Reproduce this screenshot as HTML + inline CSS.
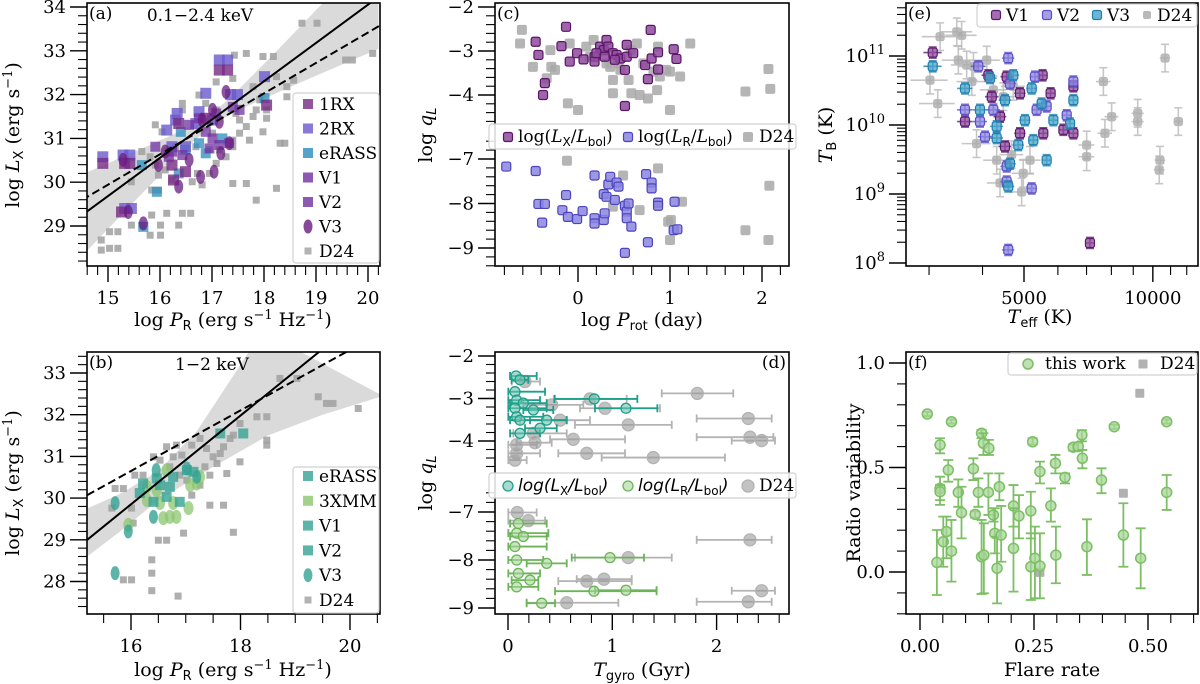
<!DOCTYPE html>
<html><head><meta charset="utf-8">
<style>
html,body{margin:0;padding:0;background:#fff;}
svg{display:block;font-family:"DejaVu Serif","Liberation Serif",serif;}
.tl{font-size:18px;fill:#000;}
.al{font-size:19px;fill:#000;}
.lg{font-size:17px;fill:#000;}
</style></head>
<body>
<svg id="fig" width="1200" height="684" viewBox="0 0 1200 684" xmlns="http://www.w3.org/2000/svg">
<defs>
<clipPath id="ca"><rect x="87" y="3" width="293" height="263"/></clipPath>
<clipPath id="cb"><rect x="87" y="352" width="293" height="262"/></clipPath>
<clipPath id="cc"><rect x="495" y="3" width="294" height="263"/></clipPath>
<clipPath id="cd"><rect x="495" y="352" width="294" height="262"/></clipPath>
<clipPath id="ce"><rect x="906" y="3" width="292" height="263"/></clipPath>
<clipPath id="cf"><rect x="906" y="352" width="292" height="262"/></clipPath>
</defs>
<g id="ga"></g>
<g id="gb"></g>
<g id="gc"></g>
<g id="gd"></g>
<g id="ge"></g>
<g id="gf"></g>

<text class="al" x="233" y="326" text-anchor="middle">log <tspan font-style="italic">P</tspan><tspan font-family="DejaVu Sans,sans-serif" font-size="13" dy="4">R</tspan><tspan dy="-4"> (erg s</tspan><tspan font-size="13" dy="-7">−1</tspan><tspan dy="7"> Hz</tspan><tspan font-size="13" dy="-7">−1</tspan><tspan dy="7">)</tspan></text>
<text class="al" x="233" y="676" text-anchor="middle">log <tspan font-style="italic">P</tspan><tspan font-family="DejaVu Sans,sans-serif" font-size="13" dy="4">R</tspan><tspan dy="-4"> (erg s</tspan><tspan font-size="13" dy="-7">−1</tspan><tspan dy="7"> Hz</tspan><tspan font-size="13" dy="-7">−1</tspan><tspan dy="7">)</tspan></text>
<text class="al" transform="translate(19,135) rotate(-90)" text-anchor="middle">log <tspan font-style="italic">L</tspan><tspan font-family="DejaVu Sans,sans-serif" font-size="13" dy="4">X</tspan><tspan dy="-4"> (erg s</tspan><tspan font-size="13" dy="-7">−1</tspan><tspan dy="7">)</tspan></text>
<text class="al" transform="translate(19,483) rotate(-90)" text-anchor="middle">log <tspan font-style="italic">L</tspan><tspan font-family="DejaVu Sans,sans-serif" font-size="13" dy="4">X</tspan><tspan dy="-4"> (erg s</tspan><tspan font-size="13" dy="-7">−1</tspan><tspan dy="7">)</tspan></text>
<text class="al" x="642" y="326" text-anchor="middle">log <tspan font-style="italic">P</tspan><tspan font-family="DejaVu Sans,sans-serif" font-size="13" dy="4">rot</tspan><tspan dy="-4"> (day)</tspan></text>
<text class="al" x="642" y="676" text-anchor="middle"><tspan font-style="italic">T</tspan><tspan font-family="DejaVu Sans,sans-serif" font-size="13" dy="4">gyro</tspan><tspan dy="-4"> (Gyr)</tspan></text>
<text class="al" transform="translate(432,135) rotate(-90)" text-anchor="middle">log <tspan font-style="italic">q</tspan><tspan font-style="italic" font-family="DejaVu Sans,sans-serif" font-size="13" dy="4">L</tspan></text>
<text class="al" transform="translate(432,483) rotate(-90)" text-anchor="middle">log <tspan font-style="italic">q</tspan><tspan font-style="italic" font-family="DejaVu Sans,sans-serif" font-size="13" dy="4">L</tspan></text>
<text class="al" x="1040" y="323" text-anchor="middle"><tspan font-style="italic">T</tspan><tspan font-family="DejaVu Sans,sans-serif" font-size="13" dy="4">eff</tspan><tspan dy="-4"> (K)</tspan></text>
<text class="al" transform="translate(832,135) rotate(-90)" text-anchor="middle"><tspan font-style="italic">T</tspan><tspan font-family="DejaVu Sans,sans-serif" font-size="13" dy="4">B</tspan><tspan dy="-4"> (K)</tspan></text>
<text class="al" x="1052" y="676" text-anchor="middle">Flare rate</text>
<text class="al" transform="translate(860,483) rotate(-90)" text-anchor="middle">Radio variability</text>

<text class="lg" x="89" y="19">(a)</text>
<text class="lg" x="200" y="21" text-anchor="middle">0.1−2.4 keV</text>
<text class="lg" x="89" y="368">(b)</text>
<text class="lg" x="212" y="370" text-anchor="middle">1−2 keV</text>
<text class="lg" x="497" y="19">(c)</text>
<text class="lg" x="786" y="368" text-anchor="end">(d)</text>
<text class="lg" x="908" y="19">(e)</text>
<text class="lg" x="908" y="368">(f)</text>

<g id="legends"></g>
</svg>

<script>
// ---------------- DATA ----------------
const aD24 = [[14.87,28.68],[14.87,28.45],[15.03,28.87],[15.03,28.49],[15.19,28.87],[15.19,28.49],[15.45,29.02],[15.45,30.01],[15.65,29.02],[15.81,28.79],[16.01,28.79],[16.01,29.02],[15.84,29.25],[16.13,29.29],[16.36,29.02],[16.43,29.29],[16.59,29.29],[15.84,29.82],[15.97,29.82],[15.81,30.58],[15.91,30.39],[15.97,30.16],[16.10,30.28],[16.23,30.05],[15.65,30.70],[15.91,31.31],[16.04,31.15],[16.17,30.70],[16.30,30.81],[16.43,31.80],[16.75,31.99],[16.72,30.20],[16.62,30.01],[16.81,29.94],[16.95,30.20],[17.08,30.43],[17.14,30.74],[17.40,30.96],[17.53,31.12],[17.66,31.27],[17.79,31.50],[17.92,31.88],[18.05,31.65],[17.98,31.15],[17.66,32.94],[17.43,32.90],[17.40,29.97],[17.66,29.97],[17.85,29.59],[18.24,29.86],[18.31,30.89],[18.40,30.89],[18.24,32.41],[18.44,32.18],[18.44,31.95],[18.18,32.87],[17.08,32.29],[17.40,32.37],[18.57,32.33],[17.46,31.57],[17.79,32.18],[17.98,32.87],[18.73,33.63],[19.02,33.63],[19.57,32.79],[19.70,32.79],[20.09,32.94],[18.05,31.46],[17.85,31.65],[17.53,31.42],[17.08,31.65],[16.88,31.80],[16.43,31.65],[16.69,30.81],[17.01,31.12],[17.27,30.58],[16.95,30.74],[17.40,30.81],[17.72,30.96]];
const a2RX = [[14.90,30.58],[15.29,30.62],[15.42,30.62],[17.14,32.79],[17.30,32.79],[16.88,32.03],[17.36,32.0],[17.49,32.0],[18.01,32.41],[16.33,31.57],[16.30,31.42],[16.75,31.61],[16.13,31.19],[15.32,29.40],[15.45,29.40],[16.23,30.81],[16.49,30.81],[17.01,31.42],[16.69,31.34]];
const a1RX = [[14.90,30.43],[15.32,30.43],[15.42,30.43],[17.14,32.56],[17.30,32.56],[18.05,31.76],[16.36,31.34],[16.23,30.39],[16.26,30.05],[16.49,30.24],[16.88,31.46],[15.26,29.32]];
const aERASS = [[15.65,30.39],[15.94,29.78],[15.68,28.98],[16.40,31.15],[16.36,30.20],[16.88,30.66],[17.20,31.0],[18.01,31.92],[16.49,30.74],[16.75,30.89]];
const aV12 = [[16.75,31.46],[17.08,31.57],[17.40,31.72],[17.53,31.65],[16.56,31.31],[16.88,31.15],[17.01,31.0],[17.14,30.85],[16.95,30.77],[16.43,30.62],[16.17,30.58],[16.23,30.70],[15.91,30.81],[17.33,30.89]];
const aV3 = [[15.29,30.51],[15.39,29.32],[15.68,29.06],[16.36,29.90],[16.56,30.51],[16.78,30.12],[17.04,30.24],[17.33,30.89],[16.81,31.42],[17.14,31.38],[17.27,32.06],[15.97,30.39],[16.10,30.70],[17.01,31.65],[17.17,30.66]];
const aFitSolid = [0.874, 29.29, 14.55];
const aFitDashed = [0.695, 29.63, 14.55];
const bD24 = [[15.65,29.76],[15.71,30.23],[15.86,30.23],[16.01,29.76],[16.04,29.40],[15.86,28.04],[16.01,28.04],[16.38,28.52],[16.38,28.20],[16.38,27.78],[16.86,27.65],[16.50,28.99],[16.65,28.99],[16.96,29.16],[17.44,29.83],[17.69,29.83],[17.87,29.18],[17.99,30.87],[17.75,30.59],[17.44,30.55],[17.26,30.31],[17.11,30.07],[17.02,30.43],[16.89,30.55],[16.71,30.75],[16.77,30.99],[16.93,31.03],[17.11,31.27],[17.26,31.43],[17.38,31.19],[17.50,30.99],[17.63,31.07],[17.69,31.23],[17.81,31.43],[17.87,31.51],[17.99,31.79],[18.30,31.95],[18.48,31.95],[18.48,31.39],[18.48,31.27],[18.72,32.87],[19.03,32.87],[19.42,32.43],[19.57,32.27],[19.69,32.27],[20.15,32.15],[16.41,30.99],[16.22,30.55],[16.07,30.55],[16.53,30.91],[16.65,31.23],[16.83,31.27],[17.57,30.83],[17.35,30.75]];
const bTealSq = [[16.22,30.35],[16.16,30.12],[16.41,29.91],[16.53,30.31],[16.71,30.27],[16.77,30.51],[16.89,29.91],[17.02,30.67],[17.14,30.63],[17.63,31.55],[18.05,31.55],[16.65,30.03],[16.47,30.47]];
const bV3 = [[15.71,29.88],[15.71,28.20],[15.95,29.20],[16.41,29.55],[16.46,30.67],[17.02,30.71],[17.20,30.51]];
const b3XMM = [[15.95,29.36],[16.29,29.95],[16.47,30.19],[16.59,29.52],[16.71,29.55],[16.65,30.67],[16.77,29.88],[16.83,29.55],[17.05,29.76],[17.08,30.31],[17.20,30.35],[17.26,30.51],[16.29,30.27],[16.53,29.88]];
const bFitSolid = [1.064, 29.0, 15.2];
const bFitDashed = [0.726, 30.07, 15.2];
const bBandUpper = [[15.2,29.75],[15.8,30.1],[16.5,30.65],[17.2,31.6],[17.9,33.0],[18.4,34.0]];
const bBandLower = [[20.6,32.45],[19.5,32.0],[18.5,31.5],[17.5,30.75],[16.5,29.95],[15.8,29.2],[15.2,28.6]];
const cLX = [[-0.13,-2.45],[-0.46,-2.79],[-0.43,-3.09],[-0.18,-2.89],[-0.09,-3.24],[-0.01,-3.05],[0.06,-3.19],[-0.36,-3.73],[-0.38,-4.0],[0.18,-3.13],[0.18,-3.24],[0.24,-2.90],[0.28,-2.98],[0.31,-2.75],[0.33,-2.90],[0.38,-3.05],[0.42,-3.09],[0.46,-3.17],[0.53,-2.86],[0.53,-3.13],[0.51,-3.43],[0.51,-4.25],[0.60,-3.05],[0.73,-3.32],[0.76,-3.64],[0.79,-2.52],[0.80,-3.17],[0.87,-3.03],[0.87,-3.42],[1.04,-2.96],[1.07,-3.18],[0.20,-3.05],[0.29,-3.13],[0.40,-3.20]];
const cLR = [[-0.78,-7.17],[-0.46,-7.27],[-0.43,-8.01],[-0.36,-8.01],[-0.39,-8.43],[-0.13,-7.81],[-0.17,-8.15],[-0.11,-8.30],[-0.01,-8.35],[0.05,-8.17],[0.18,-7.37],[0.18,-8.33],[0.18,-8.45],[0.28,-8.37],[0.28,-7.79],[0.31,-7.85],[0.29,-8.22],[0.33,-7.57],[0.35,-7.40],[0.42,-7.53],[0.44,-7.62],[0.40,-7.92],[0.51,-8.05],[0.53,-8.18],[0.53,-8.33],[0.55,-8.0],[0.58,-8.52],[0.51,-9.11],[0.74,-7.34],[0.76,-8.87],[0.80,-7.53],[0.80,-7.66],[0.87,-7.98],[0.87,-8.05],[1.05,-7.96],[1.04,-8.60],[1.08,-8.58]];
const cD24 = [[-0.61,-2.52],[-0.63,-2.83],[-0.49,-3.36],[-0.30,-2.98],[-0.29,-3.36],[-0.34,-3.62],[-0.25,-3.43],[-0.11,-4.19],[0.0,-4.34],[-0.09,-2.83],[0.09,-2.90],[0.13,-3.13],[0.17,-2.75],[0.35,-3.36],[0.38,-3.66],[0.38,-3.96],[0.44,-3.28],[0.55,-3.66],[0.58,-3.96],[0.64,-2.83],[0.71,-3.28],[0.82,-3.47],[0.87,-2.90],[0.89,-3.58],[0.86,-3.89],[0.96,-3.43],[1.0,-3.47],[1.0,-4.34],[1.11,-3.58],[1.22,-2.83],[0.67,-4.0],[0.76,-4.08],[0.24,-2.98],[0.57,-2.98],[0.31,-3.28],[0.46,-3.43],[1.82,-3.92],[2.07,-3.41],[2.09,-3.86],[-0.12,-7.04],[0.49,-7.37],[0.38,-8.07],[0.67,-8.15],[0.87,-7.21],[0.98,-8.41],[1.01,-8.37],[1.0,-8.82],[1.13,-7.96],[1.82,-8.60],[2.07,-8.82],[2.08,-7.60]];
const dLX = [[0.077,-2.47,0.02,0.275],[0.115,-2.56,0.035,0.195],[0.067,-2.84,0.003,0.355],[0.083,-3.04,0.003,0.307],[0.067,-3.23,0.003,0.371],[0.083,-3.43,0.003,0.338],[0.115,-3.51,0.02,0.563],[0.371,-3.51,0.211,0.563],[0.307,-3.70,0.163,0.467],[0.115,-3.82,0.02,0.307],[0.827,-3.01,0.444,1.24],[1.131,-3.23,0.834,1.432],[0.147,-3.11,0.02,0.371],[0.243,-3.27,0.147,0.434]];
const dLR = [[0.099,-7.24,0.02,0.371],[0.083,-7.44,0.003,0.387],[0.067,-7.72,0.003,0.371],[0.083,-8.0,0.003,0.338],[0.099,-8.28,0.003,0.307],[0.083,-8.56,0.003,0.291],[0.371,-8.07,0.179,0.563],[0.978,-7.95,0.611,1.304],[0.824,-8.65,0.451,1.425],[1.131,-8.63,0.834,1.425],[0.323,-8.90,0.179,0.451],[0.147,-7.51,0.02,0.371],[0.211,-8.42,0.035,0.291]];
const dD24 = [[1.815,-2.88,1.474,2.16],[0.786,-3.01,0.451,1.138],[0.93,-3.23,0.69,1.457],[1.153,-3.62,0.642,1.57],[2.304,-3.47,1.809,2.528],[2.32,-3.91,1.809,2.544],[2.432,-3.99,2.145,2.56],[0.626,-3.96,0.403,1.122],[0.755,-4.29,0.482,1.122],[1.393,-4.39,0.898,2.08],[0.259,-4.04,0.083,0.419],[0.083,-4.09,0.003,0.275],[0.083,-4.29,0.003,0.307],[0.067,-4.45,0.003,0.179],[0.499,-3.51,0.115,0.786],[0.419,-3.15,0.147,0.722],[0.243,-3.82,0.051,0.563],[0.163,-2.60,0.035,0.307],[0.089,-7.01,0.003,0.275],[0.195,-7.18,0.003,0.355],[2.32,-7.58,1.809,2.528],[1.153,-7.95,0.642,1.57],[0.755,-8.44,0.482,1.186],[0.92,-8.40,0.659,1.186],[2.432,-8.64,2.145,2.56],[0.563,-8.89,0.179,1.058],[2.304,-8.87,1.809,2.528]];
const eV1 = [[3060,11.05],[3640,10.05],[4128,10.72],[4203,10.41],[4514,9.69],[4555,10.70],[4893,10.46],[5527,10.72],[5770,10.46],[6180,9.93],[6522,10.56],[6522,9.88],[7130,8.29],[5547,9.88],[4893,9.88],[4395,10.12]];
const eV2 = [[3910,10.85],[3640,10.22],[3946,10.05],[4054,9.83],[4594,10.97],[4635,10.60],[5304,10.70],[5352,10.22],[6292,10.14],[6522,10.63],[4555,9.40],[4555,9.18],[4594,8.19],[5211,9.08],[4240,10.22],[5648,10.27]];
const eV3 = [[3060,10.85],[3640,10.53],[3946,10.22],[4165,10.68],[4317,9.81],[4719,10.72],[4514,10.36],[4848,9.71],[4635,9.44],[4594,9.11],[5211,10.53],[5025,10.07],[5498,10.31],[5648,9.49],[6405,10.02],[6522,10.36],[5856,10.07],[4317,9.98],[5257,9.78]];
const eD24 = [[3015,10.65],[3143,10.31],[3184,11.28],[3483,11.35],[3575,11.30],[3512,10.94],[3673,10.87],[3809,10.85],[3776,10.63],[3874,9.73],[4091,10.94],[4317,9.49],[4395,9.16],[4677,9.57],[4980,9.30],[4937,9.03],[5164,9.49],[7663,10.63],[8012,10.12],[7727,9.88],[7004,9.71],[7004,9.54],[9218,10.17],[9218,10.05],[10680,10.97],[10390,9.49],[10350,9.35],[11470,10.05],[4474,10.41],[4719,10.56],[4240,10.51]];
const fThis = [[0.016,0.756,0.746,0.766],[0.069,0.719,0.71,0.73],[0.135,0.664,0.64,0.68],[0.247,0.623,0.61,0.64],[0.426,0.695,0.685,0.705],[0.541,0.719,0.71,0.73],[0.044,0.608,0.568,0.640],[0.044,0.400,0.344,0.456],[0.044,0.384,0.321,0.416],[0.037,0.046,-0.110,0.201],[0.051,0.145,0.025,0.265],[0.058,0.193,0.066,0.265],[0.062,0.488,0.432,0.536],[0.069,0.100,-0.046,0.249],[0.084,0.381,0.312,0.443],[0.091,0.284,0.161,0.408],[0.117,0.494,0.440,0.544],[0.121,0.276,0.26,0.29],[0.128,0.381,0.312,0.448],[0.135,0.073,-0.105,0.249],[0.140,0.081,-0.102,0.233],[0.139,0.616,0.560,0.664],[0.150,0.381,0.273,0.472],[0.151,0.592,0.560,0.632],[0.161,0.273,0.241,0.305],[0.164,0.185,0.089,0.305],[0.169,0.018,-0.150,0.169],[0.174,0.408,0.344,0.472],[0.178,0.177,0.049,0.316],[0.205,0.316,0.217,0.416],[0.205,0.113,-0.094,0.305],[0.217,0.268,0.161,0.368],[0.243,0.292,0.161,0.384],[0.243,0.025,-0.134,0.185],[0.252,0.066,-0.126,0.217],[0.263,0.029,-0.126,0.185],[0.263,0.480,0.424,0.528],[0.287,0.317,0.241,0.400],[0.297,0.520,0.472,0.560],[0.298,0.081,-0.054,0.217],[0.318,0.453,0.424,0.472],[0.336,0.597,0.58,0.61],[0.347,0.600,0.58,0.62],[0.355,0.656,0.625,0.679],[0.356,0.544,0.496,0.584],[0.366,0.121,-0.014,0.252],[0.398,0.440,0.377,0.496],[0.446,0.177,0.025,0.329],[0.484,0.066,-0.078,0.209],[0.541,0.381,0.297,0.464]];
const fD24 = [[0.482,0.855],[0.446,0.377],[0.263,-0.002]];
const aXTicks = [15,16,17,18,19,20];
const aYTicks = [29,30,31,32,33,34];
const bXTicks = [16,18,20];
const bYTicks = [28,29,30,31,32,33];
const cXTicks = [0,1,2];
const cYTicks = [-2,-3,-4,-7,-8,-9];
const dXTicks = [0,1,2];
const eXTicks = [5000,10000];
const eYTicks = [8,9,10,11];
const fXTicks = [0,0.25,0.5];
const fYTicks = [0,0.5,1.0];

// ---------------- HELPERS ----------------
const NS = 'http://www.w3.org/2000/svg';
function mk(parent, tag, attrs){ const e=document.createElementNS(NS,tag); for(const k in attrs) e.setAttribute(k,attrs[k]); parent.appendChild(e); return e; }
const xa=v=>108+(v-15)*52, ya=v=>7+(34-v)*43.8;
const xb=v=>131+(v-16)*54.75, yb=v=>373+(33-v)*41.7;
const xc=v=>578+v*92, yc=v=> v>-5.5 ? 7+(-2-v)*44 : 159+(-7-v)*44.5;
const xd=v=>508+v*104.3, yd=v=> v>-5.5 ? 356+(-2-v)*42.5 : 512+(-7-v)*48;
const xe=v=>1024+(Math.log10(v)-Math.log10(5000))*428, ye=lv=>56+(11-lv)*69;
const xf=v=>920+v*456, yf=v=>572-v*209;
const fmtMinus = v => String(v).replace('-','−');

function frame(g, x0,y0,x1,y1){
  const r=mk(g,'rect',{x:x0,y:y0,width:x1-x0,height:y1-y0,fill:'none',stroke:'#000','stroke-width':1.6});
  
  
}
function xticks(g, sx, y1, majors, minors, labels){
  majors.forEach((v,i)=>{
    const l=mk(g,'line',{x1:sx(v),x2:sx(v),y1:y1,y2:y1+16,stroke:'#000','stroke-width':1.4});
    
    
    const t=mk(g,'text',{x:sx(v),y:y1+38,'text-anchor':'middle',class:'tl'}); t.textContent=labels[i];
    
    
  });
  minors.forEach(v=>{
    const l=mk(g,'line',{x1:sx(v),x2:sx(v),y1:y1,y2:y1+9,stroke:'#000','stroke-width':1.1});
    
    
  });
}
function yticks(g, sy, x0, majors, minors, labels, sup){
  majors.forEach((v,i)=>{
    const l=mk(g,'line',{x1:x0-17,x2:x0,y1:sy(v),y2:sy(v),stroke:'#000','stroke-width':1.4});
    
    
    const t=mk(g,'text',{x:x0-21,y:sy(v)+6,'text-anchor':'end',class:'tl'});
    if(sup){ t.textContent='10'; const s=mk(t,'tspan',{dy:-8,'font-size':13}); s.textContent=labels[i]; }
    else t.textContent=labels[i];
    
    
  });
  minors.forEach(v=>{
    const l=mk(g,'line',{x1:x0-9,x2:x0,y1:sy(v),y2:sy(v),stroke:'#000','stroke-width':1.1});
    
    
  });
}
function range(a,b,s){ const r=[]; for(let v=a; v<=b+1e-9; v+=s) r.push(Math.round(v*1000)/1000); return r; }
function notIn(arr, maj){ return arr.filter(v=>!maj.some(m=>Math.abs(m-v)<1e-6)); }
function sq(g, x, y, s, fill, op, stroke, rx){
  const r=mk(g,'rect',{x:x-s/2,y:y-s/2,width:s,height:s,fill:fill,'fill-opacity':op,rx:rx||0});
  if(stroke){ r.setAttribute('stroke',stroke); r.setAttribute('stroke-width',1.2); }
  return r;
}

// ---------------- PANEL A ----------------
(function(){
  const g=document.getElementById('ga');
  const c=mk(g,'g',{'clip-path':'url(#ca)'});
  const [m,b0,x0]=aFitSolid;
  let up=[],lo=[];
  for(let x=14.5;x<=20.3;x+=0.1){ const yc0=b0+m*(x-x0); const w=Math.sqrt(0.15*0.15+Math.pow(0.367*(x-17),2)); up.push(xa(x)+','+ya(yc0+w)); lo.unshift(xa(x)+','+ya(yc0-w)); }
  const band=mk(c,'polygon',{points:up.concat(lo).join(' '),fill:'#d3d3d3','fill-opacity':0.85});
  
  
  aD24.forEach(p=>{ const r=sq(c,xa(p[0]),ya(p[1]),7,'#a0a0a0',0.85);
    
     });
  aERASS.forEach(p=>{ const r=sq(c,xa(p[0]),ya(p[1]),10,'#2b8cbe',0.75);
    
     });
  a2RX.forEach(p=>{ const r=sq(c,xa(p[0]),ya(p[1]),11,'#6a5acd',0.8);
    
     });
  a1RX.forEach(p=>{ const r=sq(c,xa(p[0]),ya(p[1]),11,'#762a83',0.8);
    
     });
  aV12.forEach(p=>{ const r=sq(c,xa(p[0]),ya(p[1]),10,'#7030a0',0.75);
    
     });
  aV3.forEach(p=>{ const e=mk(c,'ellipse',{cx:xa(p[0]),cy:ya(p[1]),rx:4.5,ry:7,fill:'#6a1b80','fill-opacity':0.75});
    
     });
  const L=(f,dash,name)=>{ const [mm,bb,xx]=f; const l=mk(c,'line',{x1:xa(14.5),y1:ya(bb+mm*(14.5-xx)),x2:xa(20.3),y2:ya(bb+mm*(20.3-xx)),stroke:'#000','stroke-width':2,'stroke-dasharray':dash});
    
     };
  L(aFitSolid,'none','fit-line-solid'); L(aFitDashed,'8,4','fit-line-dashed');
  frame(g,87,3,380,266);
  xticks(g,xa,266,aXTicks,notIn(range(14.6,20.2,0.2),aXTicks),aXTicks.map(String));
  yticks(g,ya,87,aYTicks,notIn(range(28.2,34,0.2),aYTicks),aYTicks.map(String));
})();

// ---------------- PANEL B ----------------
(function(){
  const g=document.getElementById('gb');
  const c=mk(g,'g',{'clip-path':'url(#cb)'});
  const pts=bBandUpper.concat(bBandLower).map(p=>xb(p[0])+','+yb(p[1])).join(' ');
  const band=mk(c,'polygon',{points:pts,fill:'#d3d3d3','fill-opacity':0.85});
  
  
  bD24.forEach(p=>{ const r=sq(c,xb(p[0]),yb(p[1]),7,'#a0a0a0',0.85);
    
     });
  b3XMM.forEach(p=>{ const e=mk(c,'ellipse',{cx:xb(p[0]),cy:yb(p[1]),rx:5,ry:7,fill:'#8cc56f','fill-opacity':0.75});
    
     });
  bTealSq.forEach(p=>{ const r=sq(c,xb(p[0]),yb(p[1]),10,'#35a393',0.8);
    
     });
  bV3.forEach(p=>{ const e=mk(c,'ellipse',{cx:xb(p[0]),cy:yb(p[1]),rx:4.5,ry:7,fill:'#35a393','fill-opacity':0.8});
    
     });
  const L=(f,dash,name)=>{ const [mm,bb,xx]=f; const l=mk(c,'line',{x1:xb(15.2),y1:yb(bb+mm*(15.2-xx)),x2:xb(20.6),y2:yb(bb+mm*(20.6-xx)),stroke:'#000','stroke-width':2,'stroke-dasharray':dash});
    
     };
  L(bFitSolid,'none','fit-line-solid'); L(bFitDashed,'8,4','fit-line-dashed');
  frame(g,87,352,380,614);
  xticks(g,xb,614,bXTicks,notIn(range(15.5,20.5,0.5),bXTicks),bXTicks.map(String));
  yticks(g,yb,87,bYTicks,notIn(range(27.4,33.4,0.2),bYTicks),bYTicks.map(String));
})();

// ---------------- PANEL C ----------------
(function(){
  const g=document.getElementById('gc');
  const c=mk(g,'g',{'clip-path':'url(#cc)'});
  cD24.forEach(p=>{ const r=sq(c,xc(p[0]),yc(p[1]),10,'#a8a8a8',0.85,null,2);
    
     });
  cLX.forEach(p=>{ const r=sq(c,xc(p[0]),yc(p[1]),9,'#8e4a9c',0.85,'#5a1466',2);
    
     });
  cLR.forEach(p=>{ const r=sq(c,xc(p[0]),yc(p[1]),9,'#8c86de',0.85,'#4b44c0',2);
    
     });
  frame(g,495,3,789,266);
  xticks(g,xc,266,cXTicks,notIn(range(-0.8,2.2,0.2),cXTicks),cXTicks.map(fmtMinus));
  const minors=notIn(range(-4.6,-2.0,0.2).concat(range(-9.4,-6.6,0.2)),cYTicks);
  yticks(g,yc,495,cYTicks,minors,cYTicks.map(fmtMinus));
})();

// ---------------- PANEL D ----------------
(function(){
  const g=document.getElementById('gd');
  const c=mk(g,'g',{'clip-path':'url(#cd)'});
  function errpts(arr, col, fill, r, name, ename){
    arr.forEach(p=>{
      const y=yd(p[1]);
      const l=mk(c,'line',{x1:xd(p[2]),x2:xd(p[3]),y1:y,y2:y,stroke:col,'stroke-width':1.8});
      
      
      [p[2],p[3]].forEach(v=>{ const cap=mk(c,'line',{x1:xd(v),x2:xd(v),y1:y-4,y2:y+4,stroke:col,'stroke-width':1.8});
        
         });
    });
    arr.forEach(p=>{
      const ci=mk(c,'circle',{cx:xd(p[0]),cy:yd(p[1]),r:r,fill:fill,'fill-opacity':0.6,stroke:col,'stroke-width':1.3});
      
      
    });
  }
  errpts(dD24,'#b3b3b3','#999',6,'d24-point','d24-error-bar');
  errpts(dLX,'#1f9e89','#6cc3b2',5,'lx-lbol-point','lx-error-bar');
  errpts(dLR,'#6db35a','#a8d69a',5,'lr-lbol-point','lr-error-bar');
  frame(g,495,352,789,614);
  xticks(g,xd,614,dXTicks,notIn(range(-0.0,2.6,0.2),dXTicks),dXTicks.map(String));
  const minors=notIn(range(-4.6,-2.0,0.2).concat(range(-9.0,-6.6,0.2)),cYTicks);
  yticks(g,yd,495,cYTicks,minors,cYTicks.map(fmtMinus));
})();

// ---------------- PANEL E ----------------
(function(){
  const g=document.getElementById('ge');
  const c=mk(g,'g',{'clip-path':'url(#ce)'});
  function pts(arr,col,fill,s,dy,dx,name){
    arr.forEach(p=>{
      const x=xe(p[0]), y=ye(p[1]);
      const v=mk(c,'path',{d:`M${xe(p[0]-dx)},${y}H${xe(p[0]+dx)}M${x},${ye(p[1]-dy)}V${ye(p[1]+dy)}M${x-4},${ye(p[1]-dy)}h8M${x-4},${ye(p[1]+dy)}h8`,stroke:col,'stroke-width':1.6,fill:'none','stroke-opacity':0.8});
      
      
      const r=sq(c,x,y,s,fill,0.75,col,2);
      
      
    });
  }
  pts(eD24,'#b8b8b8','#a8a8a8',8,0.2,300,'d24-point');
  pts(eV1,'#5b1a6e','#8e4a9c',9,0.08,150,'v1-point');
  pts(eV2,'#5a4fc8','#8c86de',9,0.08,150,'v2-point');
  pts(eV3,'#1f7fb0','#4aa3c8',9,0.08,150,'v3-point');
  frame(g,906,3,1198,266);
  xticks(g,xe,266,eXTicks,[3000,4000,6000,7000,8000,9000,11000,12000],eXTicks.map(String));
  const mins=[]; [7,8,9,10,11].forEach(n=>{ for(let k=2;k<=9;k++){ const lv=n+Math.log10(k); if(lv>7.97&&lv<11.77) mins.push(lv);} });
  yticks(g,ye,906,eYTicks,mins,eYTicks.map(String),true);
})();

// ---------------- PANEL F ----------------
(function(){
  const g=document.getElementById('gf');
  const c=mk(g,'g',{'clip-path':'url(#cf)'});
  fD24.forEach(p=>{ const r=sq(c,xf(p[0]),yf(p[1]),9,'#a8a8a8',0.9,null,1);
    
     });
  fThis.forEach(p=>{
    const x=xf(p[0]);
    const e=mk(c,'path',{d:`M${x},${yf(p[2])}V${yf(p[3])}M${x-5},${yf(p[2])}h10M${x-5},${yf(p[3])}h10`,stroke:'#7cbf64','stroke-width':1.8,fill:'none'});
    
    
    const ci=mk(c,'circle',{cx:x,cy:yf(p[1]),r:5,fill:'#a8d69a','fill-opacity':0.75,stroke:'#7cbf64','stroke-width':1.5});
    
    
  });
  frame(g,906,352,1198,614);
  xticks(g,xf,614,fXTicks,notIn(range(0.05,0.6,0.05),fXTicks),['0.00','0.25','0.50']);
  yticks(g,yf,906,fYTicks,notIn(range(-0.2,1.0,0.1),fYTicks),['0.0','0.5','1.0']);
})();

// ---------------- LEGENDS ----------------
(function(){
  const L=document.getElementById('legends');
  function box(x,y,w,h,name){ const r=mk(L,'rect',{x:x,y:y,width:w,height:h,rx:3,fill:'#fff','fill-opacity':0.85,stroke:'#d0d0d0','stroke-width':1.2});
    
     }
  function txt(x,y,s,name){ const t=mk(L,'text',{x:x,y:y,class:'lg'}); t.textContent=s;
    
     return t; }
  box(293,93,86,170,'legend-a');
  const aEnt=[['1RX','#762a83','sq'],['2RX','#6a5acd','sq'],['eRASS','#2b8cbe','sq'],['V1','#7030a0','sq'],['V2','#7030a0','sq'],['V3','#6a1b80','el'],['D24','#a0a0a0','sm']];
  aEnt.forEach((e,i)=>{ const y=104+i*24.5;
    const m = e[2]==='el' ? mk(L,'ellipse',{cx:308,cy:y,rx:4.5,ry:7,fill:e[1],'fill-opacity':0.8}) : sq(L,308,y,e[2]==='sm'?7:10,e[1],0.8);
    
    
    txt(319,y+6,e[0],'legend-entry-a'); });
  box(293,467,86,146,'legend-b');
  const bEnt=[['eRASS','#35a393','sq'],['3XMM','#8cc56f','sq'],['V1','#35a393','sq'],['V2','#35a393','sq'],['V3','#35a393','el'],['D24','#a0a0a0','sm']];
  bEnt.forEach((e,i)=>{ const y=476+i*24.8;
    const m = e[2]==='el' ? mk(L,'ellipse',{cx:308,cy:y,rx:4.5,ry:7,fill:e[1],'fill-opacity':0.8}) : sq(L,308,y,e[2]==='sm'?7:10,e[1],0.8);
    
    
    txt(319,y+6,e[0],'legend-entry-b'); });
  box(489,124,307,25,'legend-c');
  function ratio(x,y,sub,italic,name){
    const t=mk(L,'text',{x:x,y:y,class:'lg'});
    
    
    const fam = italic ? 'DejaVu Sans,sans-serif' : 'inherit';
    const a=mk(t,'tspan',{'font-style':italic?'italic':'normal','font-family':fam}); a.textContent='log(';
    const b=mk(t,'tspan',{'font-style':'italic','font-family':fam}); b.textContent='L';
    const c=mk(t,'tspan',{'font-size':12,dy:4,'font-family':'DejaVu Sans,sans-serif'}); c.textContent=sub;
    const d=mk(t,'tspan',{dy:-4,'font-family':fam,'font-style':italic?'italic':'normal'}); d.textContent='/';
    const e=mk(t,'tspan',{'font-style':'italic','font-family':fam}); e.textContent='L';
    const f=mk(t,'tspan',{'font-size':12,dy:4,'font-family':'DejaVu Sans,sans-serif'}); f.textContent='bol';
    const h=mk(t,'tspan',{dy:-4,'font-family':fam,'font-style':italic?'italic':'normal'}); h.textContent=')';
  }
  let m;
  m=sq(L,508,137,9,'#8e4a9c',0.85,'#5a1466',2);
  
  
  ratio(518,142,'X',false,'legend-entry-c-lx');
  m=sq(L,628,137,9,'#8c86de',0.85,'#4b44c0',2);
  
  
  ratio(638,142,'R',false,'legend-entry-c-lr');
  m=sq(L,748,137,10,'#a8a8a8',0.85,null,2);
  
  
  txt(759,142,'D24','legend-entry-c-d24');
  box(489,473,307,25,'legend-d');
  m=mk(L,'circle',{cx:508,cy:486,r:5,fill:'#6cc3b2','fill-opacity':0.6,stroke:'#1f9e89','stroke-width':1.3});
  
  
  ratio(518,491,'X',true,'legend-entry-d-lx');
  m=mk(L,'circle',{cx:628,cy:486,r:5,fill:'#a8d69a','fill-opacity':0.6,stroke:'#6db35a','stroke-width':1.3});
  
  
  ratio(638,491,'R',true,'legend-entry-d-lr');
  m=mk(L,'circle',{cx:748,cy:486,r:6,fill:'#999','fill-opacity':0.6,stroke:'#b3b3b3','stroke-width':1.3});
  
  
  txt(759,491,'D24','legend-entry-d-d24');
  box(977,4,220,23,'legend-e');
  const eEnt=[['V1','#8e4a9c','#5b1a6e',996],['V2','#8c86de','#5a4fc8',1047],['V3','#4aa3c8','#1f7fb0',1097],['D24','#a8a8a8',null,1147]];
  eEnt.forEach(e=>{ const mm=sq(L,e[3],15,e[2]?9:8,e[1],0.8,e[2],2);
    
    
    txt(e[3]+10,21,e[0],'legend-entry-e'); });
  box(1008,353,189,22,'legend-f');
  m=mk(L,'circle',{cx:1028,cy:364,r:5,fill:'#a8d69a','fill-opacity':0.75,stroke:'#7cbf64','stroke-width':1.5});
  
  
  txt(1045,369,'this work','legend-entry-f-this-work');
  m=sq(L,1143,364,9,'#a8a8a8',0.9,null,1);
  
  
  txt(1160,369,'D24','legend-entry-f-d24');
})();
</script>
</body></html>
